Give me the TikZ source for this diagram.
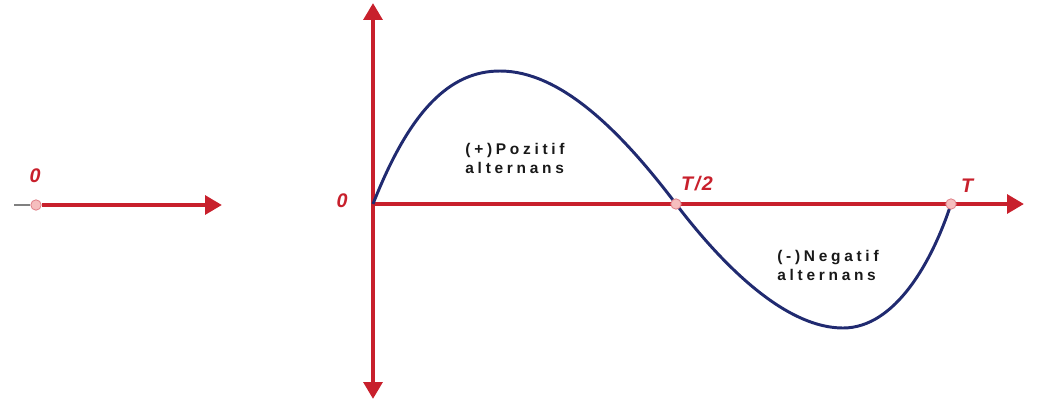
\documentclass[tikz,border=0pt]{standalone}
\usepackage{fontspec}
\setmainfont{Liberation Sans}
\newfontfamily\spacedfont[LetterSpace=24]{Liberation Sans}
\newfontfamily\tickfont[LetterSpace=8]{Liberation Sans}
\usetikzlibrary{arrows.meta}
\definecolor{axisred}{RGB}{200,32,44}
\definecolor{wavenavy}{RGB}{32,42,112}
\definecolor{dotpink}{RGB}{246,190,190}

\begin{document}
\begin{tikzpicture}[
    x=0.025cm, y=-0.025cm,
    axis/.style={draw=axisred, line width=3.4pt,
                 -{Triangle[length=0.42cm, width=0.46cm]}},
    wave/.style={draw=wavenavy, line width=2.1pt},
    dot/.style={circle, draw=axisred!55, fill=dotpink, line width=0.6pt,
                inner sep=0pt, minimum size=0.26cm},
    tick/.style={text=axisred, font=\tickfont\bfseries\itshape\fontsize{14}{14}\selectfont},
    note/.style={font=\spacedfont\bfseries\fontsize{11}{13.5}\selectfont,
                 align=left, text=black!90}
]
\useasboundingbox (0,0) rectangle (1038,404);

% small axis on the left
\coordinate (s0) at (14,205);
\coordinate (s1) at (222,205);
\node[dot] (sdot) at (36,205) {};
\draw[gray, line width=0.8pt] (s0) -- (sdot.west);
\draw[axis] (sdot.east) -- (s1);
\node[tick] (szero) at (35,176) {0};

% main axes
\coordinate (o) at (373,204);
\coordinate (xend) at (1024,204);
\coordinate (ytop) at (373,3);
\coordinate (ybot) at (373,399);
\draw[axis] (o) -- (xend);
\draw[axis] (o) -- (ytop);
\draw[axis] (o) -- (ybot);

% the wave
\coordinate (half) at (676,204);
\coordinate (full) at (951,204);
\draw[wave] (o) .. controls (410,110) and (450,71) .. (500,71)
    .. controls (560,71) and (620,130) .. (half)
    .. controls (730,275) and (790,328) .. (843,328)
    .. controls (895,328) and (932,262) .. (full);
\node[dot] (hdot) at (half) {};
\node[dot] (fdot) at (full) {};

% labels
\node[tick] (ozero) at (342,201) {0};
\node[tick] (thalf) at (697,184) {T/2};
\node[tick] (tfull) at (967,186) {T};
\node[note] (pos) at (515,158) {(+)Pozitif\\alternans};
\node[note] (neg) at (828,265) {(-)Negatif\\alternans};

\end{tikzpicture}
\end{document}
